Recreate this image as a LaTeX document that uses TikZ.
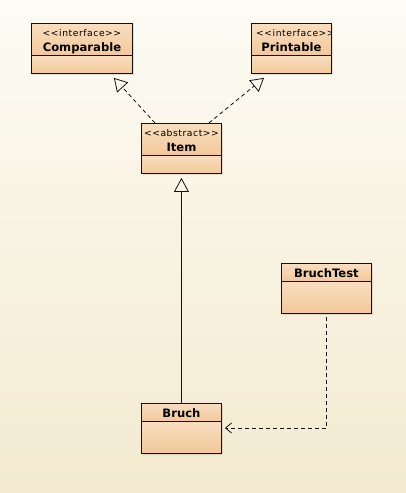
\documentclass[tikz,border=0pt]{standalone}
\usepackage{fontspec}
\setmainfont{DejaVu Sans}
\usetikzlibrary{arrows.meta,calc,shadows}
\definecolor{bgtop}{HTML}{FDFBF4}
\definecolor{bgbot}{HTML}{F3EAD0}
\definecolor{boxtop}{HTML}{F8DEC0}
\definecolor{boxbot}{HTML}{F3C899}
\definecolor{ink}{HTML}{111111}
\newcommand\stfont{\fontsize{9.2}{10}\selectfont\addfontfeature{LetterSpace=6}}
\newcommand\cnfont{\fontsize{11.6}{13}\selectfont\bfseries}
\newcommand\lt{{<}}
\newcommand\gt{{>}}
\tikzset{
  classpart/.style={draw=ink, line width=0.9pt, anchor=north west, inner sep=0pt,
    top color=boxtop, bottom color=boxbot, align=center,
    drop shadow={opacity=0.22, shadow xshift=1.5pt, shadow yshift=-1.5pt}},
  realize/.style={draw=ink, line width=0.8pt, dash pattern=on 4pt off 3pt,
    -{Triangle[open, length=13pt, width=15pt, line width=0.8pt]}},
  inherit/.style={draw=ink, line width=0.8pt,
    -{Triangle[open, length=14pt, width=15pt, line width=0.8pt]}},
  depend/.style={draw=ink, line width=0.8pt, dash pattern=on 4pt off 3pt,
    -{Straight Barb[length=6pt, width=10pt, line width=0.8pt]}},
}
\begin{document}
\begin{tikzpicture}[x=1pt, y=-1pt]
  \useasboundingbox (0,0) rectangle (406,493);
  \shade[shading angle=20, top color=bgtop, bottom color=bgbot] (0,0) rectangle (406,493);

  % Comparable
  \node[classpart, minimum width=101pt, minimum height=32pt] (cmp) at (31,23) {};
  \node[classpart, minimum width=101pt, minimum height=18pt] (cmpb) at (31,55) {};
  \node[font=\stfont, inner sep=0pt, anchor=base] (cmpst) at ($(cmp.north)+(0,13)$) {\lt\lt interface\gt\gt};
  \node[font=\cnfont, inner sep=0pt, anchor=base] (cmpnm) at ($(cmp.north)+(0,28)$) {Comparable};

  % Printable
  \node[classpart, minimum width=80pt, minimum height=32pt] (prt) at (251,23) {};
  \node[classpart, minimum width=80pt, minimum height=18pt] (prtb) at (251,55) {};
  \begin{scope}
    \clip (prt.north west) rectangle (prt.south east);
    \node[font=\stfont, anchor=base west, inner sep=0pt] (prtst) at ($(prt.north west)+(5,13)$) {\lt\lt interface\gt\gt};
  \end{scope}
  \node[font=\cnfont, inner sep=0pt, anchor=base] (prtnm) at ($(prt.north)+(0,28)$) {Printable};

  % Item
  \node[classpart, minimum width=80pt, minimum height=32pt] (itm) at (141,123) {};
  \node[classpart, minimum width=80pt, minimum height=18pt] (itmb) at (141,155) {};
  \node[font=\stfont, inner sep=0pt, anchor=base] (itmst) at ($(itm.north)+(0,13)$) {\lt\lt abstract\gt\gt};
  \node[font=\cnfont, inner sep=0pt, anchor=base] (itmnm) at ($(itm.north)+(0,28)$) {Item};

  % BruchTest
  \node[classpart, minimum width=90pt, minimum height=18pt] (tst) at (281,263) {};
  \node[classpart, minimum width=90pt, minimum height=32pt] (tstb) at (281,281) {};
  \node[font=\cnfont, inner sep=0pt, anchor=base] (tstnm) at ($(tst.north)+(0,14)$) {BruchTest};

  % Bruch
  \node[classpart, minimum width=80pt, minimum height=18pt] (bru) at (141,403) {};
  \node[classpart, minimum width=80pt, minimum height=32pt] (brub) at (141,421) {};
  \node[font=\cnfont, inner sep=0pt, anchor=base] (brunm) at ($(bru.north)+(0,14)$) {Bruch};

  % connectors
  \draw[realize] ($(itm.north west)+(14,0)$) -- ($(cmpb.south east)+(-19,4)$);
  \draw[realize] ($(itm.north east)+(-13,0)$) -- ($(prtb.south west)+(13,4)$);
  \draw[inherit] (bru.north) -- ($(itmb.south)+(0,4)$);
  \draw[depend] ($(tstb.south)+(0,3)$) |- ($(brub.north east)+(3,7)$);
\end{tikzpicture}
\end{document}
